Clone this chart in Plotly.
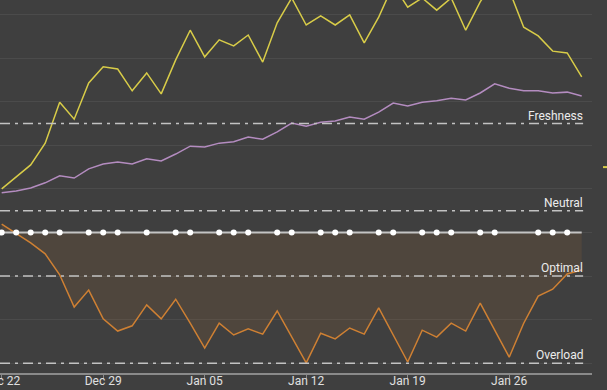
import pandas as pd
import plotly.graph_objects as go

start_date = "2023-12-22"
n_days = 41
dates = pd.date_range(start_date, periods=n_days, freq="D")

fatigue = [10.0, 12.7, 15.5, 20.5, 29.9, 26.0, 34.3, 38.0, 37.5, 32.5, 36.6, 31.8, 39.6, 46.4,
           40.3, 44.2, 42.8, 45.3, 39.1, 48.1, 53.8, 47.6, 49.7, 47.6, 49.9, 43.5, 49.4, 56.8,
           51.7, 53.8, 51.0, 53.8, 46.4, 52.9, 57.9, 55.6, 47.1, 45.1, 41.6, 41.2, 35.7]
fitness = [9.1, 9.5, 10.2, 11.4, 13.0, 12.5, 14.6, 15.7, 16.2, 15.7, 16.9, 16.4, 18.0, 19.8,
           19.6, 20.5, 20.8, 21.9, 21.4, 23.1, 25.1, 24.4, 25.3, 25.6, 26.5, 26.0, 27.6, 29.7,
           29.0, 29.9, 30.2, 30.8, 30.4, 32.0, 34.1, 33.1, 32.5, 32.5, 32.0, 32.2, 31.3]
form = [1.9, -0.3, -2.4, -4.9, -9.7, -17.1, -13.2, -19.8, -22.6, -21.4, -16.6, -19.8, -15.3, -20.8,
        -26.5, -20.8, -23.5, -22.1, -23.3, -18.0, -24.0, -29.9, -23.1, -24.4, -21.9, -23.3, -17.3, -23.5,
        -29.7, -22.4, -24.0, -20.8, -22.6, -16.2, -22.4, -28.6, -20.8, -14.6, -13.0, -9.5, -8.6]

activity_dates = ["2023-12-22", "2023-12-23", "2023-12-24", "2023-12-25", "2023-12-26", "2023-12-28",
                  "2023-12-29", "2023-12-30", "2024-01-01", "2024-01-03", "2024-01-04", "2024-01-06",
                  "2024-01-07", "2024-01-08", "2024-01-10", "2024-01-11", "2024-01-13", "2024-01-14",
                  "2024-01-15", "2024-01-17", "2024-01-18", "2024-01-20", "2024-01-21", "2024-01-22",
                  "2024-01-24", "2024-01-25", "2024-01-28", "2024-01-29", "2024-01-30"]

zone_values = [25, 5, -10, -30]
zone_labels = ["Freshness", "Neutral", "Optimal", "Overload"]

tick_dates = ["2023-12-22", "2023-12-29", "2024-01-05", "2024-01-12", "2024-01-19", "2024-01-26"]
tick_labels = ["Dec 22", "Dec 29", "Jan 05", "Jan 12", "Jan 19", "Jan 26"]

BG = "#3f3f3f"
fig = go.Figure()

# form area
fig.add_trace(go.Scatter(x=dates, y=form, mode="lines", fill="tozeroy",
                         fillcolor="rgba(205,125,50,0.11)",
                         line=dict(color="#cf8033", width=1.5), hoverinfo="skip"))
fig.add_trace(go.Scatter(x=dates, y=fitness, mode="lines",
                         line=dict(color="#b48cc0", width=1.5), hoverinfo="skip"))
fig.add_trace(go.Scatter(x=dates, y=fatigue, mode="lines",
                         line=dict(color="#d8cc48", width=1.5), hoverinfo="skip"))
# zero line
fig.add_trace(go.Scatter(x=dates, y=[0] * n_days, mode="lines",
                         line=dict(color="#c4c4c4", width=2), hoverinfo="skip"))
fig.add_trace(go.Scatter(x=pd.to_datetime(activity_dates), y=[0] * len(activity_dates), mode="markers",
                         marker=dict(color="white", size=6), hoverinfo="skip"))

for v, lab in zip(zone_values, zone_labels):
    fig.add_shape(type="line", xref="paper", x0=0, x1=0.985, yref="y", y0=v, y1=v,
                  line=dict(color="#c2c2c2", width=1.5, dash="10px,5px,3px,5px"), layer="above")
    fig.add_annotation(x=dates[-1], y=v, text=lab, showarrow=False, xanchor="right",
                       yanchor="bottom", yshift=-1, xshift=3,
                       font=dict(family="Roboto", size=12, color="#ececec"))

# small yellow marker at right edge
fig.add_shape(type="line", xref="paper", yref="paper", x0=1.0186, x1=1.03, y0=0.552, y1=0.552,
              line=dict(color="#d8cc48", width=2))

x0 = pd.Timestamp(start_date) - pd.Timedelta(hours=2.8)
x1 = pd.Timestamp(start_date) + pd.Timedelta(days=40.71)

fig.update_layout(
    width=607, height=390,
    margin=dict(l=0, r=15, t=0, b=17),
    paper_bgcolor=BG, plot_bgcolor=BG,
    showlegend=False,
    hovermode=False,
    xaxis=dict(range=[x0, x1], tickvals=pd.to_datetime(tick_dates), ticktext=tick_labels,
               showgrid=False, zeroline=False, showline=True, linecolor="#8a8a8a", linewidth=2,
               ticks="outside", ticklen=4, tickcolor="#8a8a8a", tickwidth=1,
               ticklabelstandoff=-8, ticklabeloverflow="allow",
               tickfont=dict(family="Roboto", size=12, color="#e0e0e0"), automargin=False),
    yaxis=dict(range=[-32.22, 53.33], dtick=10, tick0=0, showgrid=True, gridcolor="#4b4b4b",
               gridwidth=1, zeroline=False, showticklabels=False, showline=False, automargin=False),
)

fig.write_html("out.html", config={"displayModeBar": False},
               post_script="document.body.style.margin='0';document.body.style.background='#3f3f3f';")
